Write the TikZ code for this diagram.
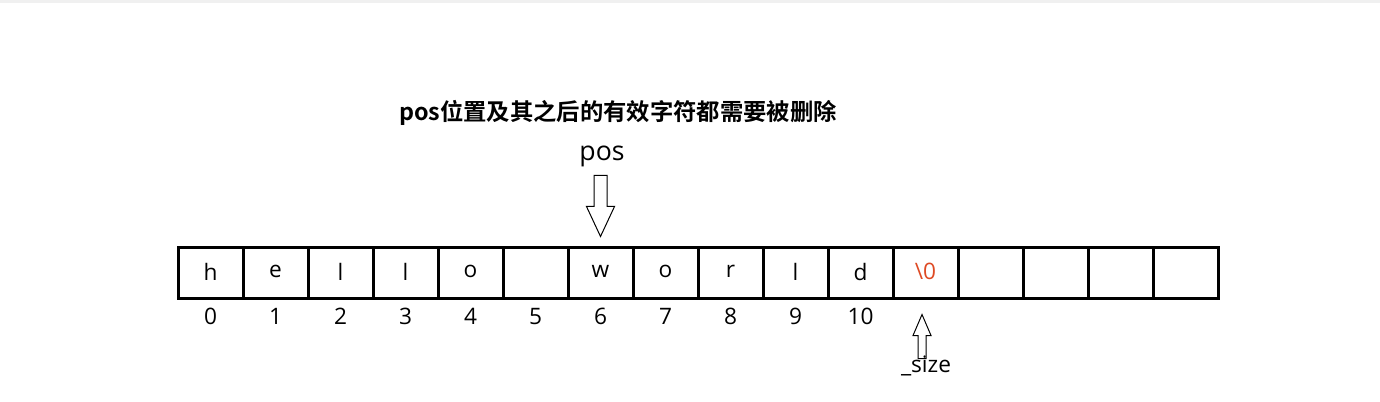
\documentclass[tikz,border=0pt]{standalone}
\usepackage{fontspec}
\setmainfont{Open Sans}
\newfontfamily\cjk{Noto Sans CJK SC}[BoldFont={Noto Sans CJK SC Bold}]
\usetikzlibrary{positioning,calc}

\definecolor{nulred}{RGB}{222,74,36}

\tikzset{
  cell/.style={draw, line width=2.25pt, minimum width=48.75pt, minimum height=38.25pt, inner sep=0pt, font=\fontsize{17}{19}\selectfont},
  idx/.style={inner sep=0.75pt, font=\fontsize{17}{19}\selectfont},
  hollow/.style={draw, fill=white, line width=0.75pt, line join=miter},
}

\begin{document}
\begin{tikzpicture}[x=0.75pt,y=0.75pt,yscale=-1,xscale=1]
      \useasboundingbox (0,0) rectangle (1380,402);
      \fill [gray!12] (0,0) rectangle (1380,3);
      % the buffer
      \foreach \ch [count=\i from 0] in {h,e,l,l,o,{},w,o,r,l,d,{\textcolor{nulred}{\textbackslash 0}},{},{},{},{}}
        \node [cell] (c\i) at (210.5+65*\i,273.5) {\raisebox{3pt}{\ch}};
      % indices
      \foreach \i in {0,...,10}
        \node [idx, below=5pt of c\i] (i\i) {\i};
      \draw (618,113) node [font=\cjk\fontsize{17.5}{20}\selectfont\bfseries] (title) {pos位置及其之后的有效字符都需要被删除};
      \node [font=\fontsize{20}{22}\selectfont] (pos) at (602,156) {pos};
      \coordinate (ptip) at ($(c6.north)+(0,-10)$);
      \draw [hollow] (ptip) -- ++(-14,-30) -- ++(7.5,0) -- ++(0,-31) -- ++(13,0) -- ++(0,31) -- ++(7.5,0) -- cycle;
      \coordinate (stip) at ($(c11.south)+(-3.5,14)$);
      \draw [hollow] (stip) -- ++(-9,21) -- ++(5,0) -- ++(0,23) -- ++(8,0) -- ++(0,-23) -- ++(5,0) -- cycle;
      \node [idx] (size) at (926,366) {\_size};
\end{tikzpicture}
\end{document}
